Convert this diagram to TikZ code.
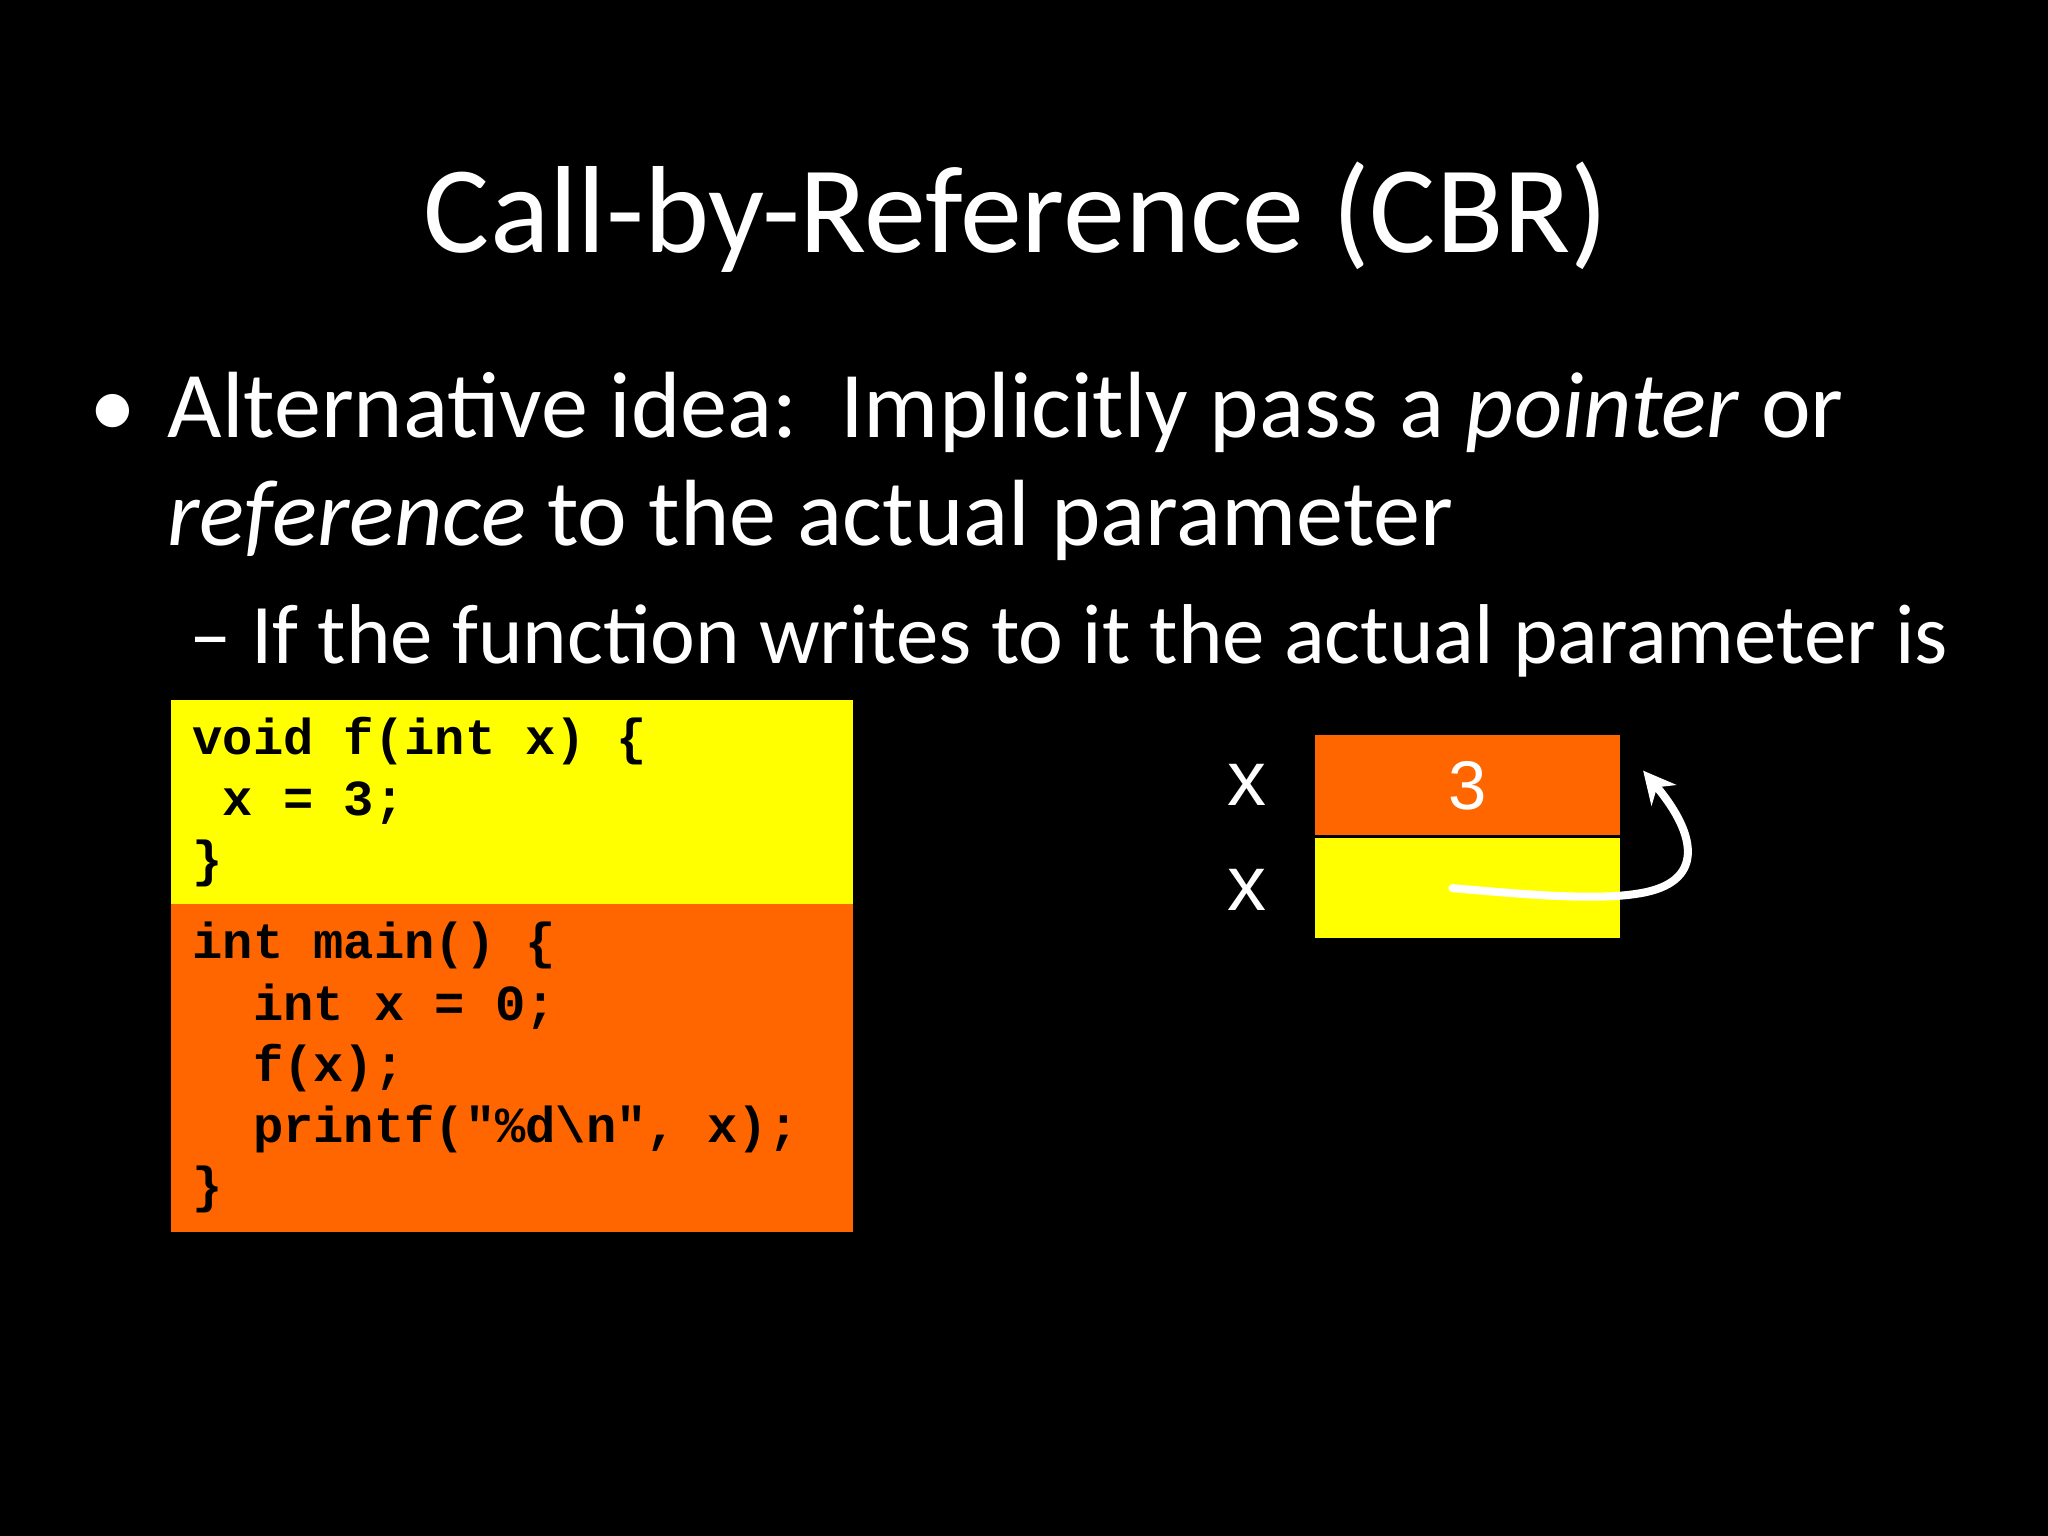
\documentclass[tikz,border=0pt]{standalone}
\usepackage{fontspec}
\setmainfont{Carlito}
\newfontfamily\codefont{Liberation Mono}
\newfontfamily\arialfont{Liberation Sans}
\usetikzlibrary{arrows.meta}
\begin{document}
\begin{tikzpicture}[x=0.02cm,y=-0.02cm,
  txt/.style={text=white,inner sep=0,anchor=base west},
  code/.style={inner sep=0,anchor=base west,font=\codefont\bfseries\fontsize{22}{26}\selectfont,text=black}]
\definecolor{cyel}{RGB}{255,255,0}
\definecolor{corg}{RGB}{255,102,0}
\fill[black] (0,0) rectangle (1568,1176);
\useasboundingbox (0,0) rectangle (1568,1176);
\node[txt,anchor=base,font=\fontsize{54}{60}\selectfont] (title) at (778,193) {Call-by-Reference (CBR)};
\node[txt,font=\fontsize{41}{48}\selectfont] (b1) at (68,335) {•};
\node[txt,font=\fontsize{41}{48}\selectfont] (l1) at (128,335) {Alternative idea:\ \ Implicitly pass a \textit{pointer} or};
\node[txt,font=\fontsize{41}{48}\selectfont] (l2) at (128,418) {\textit{reference} to the actual parameter};
\node[txt,font=\fontsize{37}{44}\selectfont] (l3) at (145,508) {– If the function writes to it the actual parameter is};
% code boxes
\fill[cyel] (131,536) rectangle (653,692);
\fill[corg] (131,692) rectangle (653,943);
\node[code] (c1) at (147,578) {void f(int x) \{};
\node[code] (c2) at (147,624) {\ x = 3;};
\node[code] (c3) at (147,671) {\}};
\node[code] (c4) at (147,734) {int main() \{};
\node[code] (c5) at (147,781) {\ \ int x = 0;};
\node[code] (c6) at (147,828) {\ \ f(x);};
\node[code] (c7) at (147,875) {\ \ printf("\%d\textbackslash n", x);};
\node[code] (c8) at (147,921) {\}};
% memory
\node[fill=corg,minimum width=0.02cm*233,minimum height=0.02cm*77,inner sep=0,text=white,font=\arialfont\fontsize{30}{34}\selectfont] (m1) at (1123.5,601.5) {3};
\node[fill=cyel,minimum width=0.02cm*233,minimum height=0.02cm*77,inner sep=0] (m2) at (1123.5,679.5) {};
\draw[black,line width=1pt] (m1.south west) -- (m1.south east);
\node[text=white,font=\arialfont\fontsize{34}{38}\selectfont,anchor=east,inner sep=0] (x1) at (970,601) {x};
\node[text=white,font=\arialfont\fontsize{34}{38}\selectfont,anchor=east,inner sep=0] (x2) at (970,681) {x};
\coordinate (s) at (1112,680);
\coordinate (e) at (1258,590);
\draw[white,line width=3.5pt,line cap=round,-{Stealth[length=14pt,width=14pt]}] (s) .. controls (1160,684) and (1220,690) .. (1255,684) .. controls (1305,676) and (1300,640) .. (e);
\end{tikzpicture}
\end{document}
